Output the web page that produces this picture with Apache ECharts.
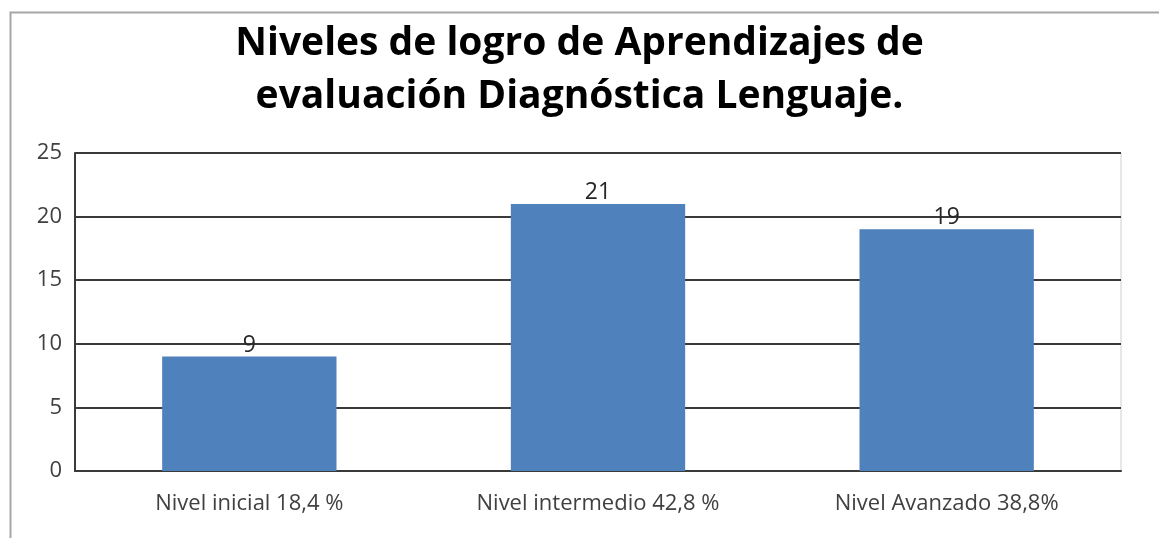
<!DOCTYPE html>
<html>
<head>
<meta charset="utf-8">
<title>Niveles de logro</title>
<script src="https://cdn.jsdelivr.net/npm/echarts@6/dist/echarts.min.js"></script>
<style>
  html, body { margin: 0; padding: 0; background: #fff; }
  #chart { width: 1159px; height: 538px; }
</style>
</head>
<body>
<div id="chart"></div>
<script>
  // datos del grafico
  const categories = ['Nivel inicial 18,4 %', 'Nivel intermedio 42,8 %', 'Nivel Avanzado 38,8%']
  const values = [9, 21, 19]
  const yTicks = [0, 5, 10, 15, 20, 25]

  const chart = echarts.init(document.getElementById('chart'))

  chart.setOption({
    animation: false,
    title: {
      text: 'Niveles de logro de Aprendizajes de\nevaluación Diagnóstica Lenguaje.',
      left: 'center',
      top: 12,
      padding: [5, 5, 5, 17],
      textStyle: {
        fontFamily: 'Open Sans',
        fontWeight: 'bold',
        fontSize: 39,
        lineHeight: 53,
        color: '#000'
      }
    },
    // marco exterior (recortado a la derecha y abajo)
    graphic: [{
      type: 'rect',
      left: 8,
      top: 10,
      shape: { width: 1300, height: 700 },
      style: { fill: 'none', stroke: '#a6a6a6', lineWidth: 2 }
    }],
    grid: {
      left: 75,
      right: 38,
      top: 153,
      bottom: 67,
      show: true,
      borderColor: '#d0d0d0',
      borderWidth: 1
    },
    xAxis: {
      type: 'category',
      data: categories,
      axisTick: { show: false },
      axisLine: { lineStyle: { color: '#3a3a3a', width: 2 } },
      axisLabel: {
        fontFamily: 'Open Sans',
        fontSize: 22,
        color: '#404040',
        margin: 22
      }
    },
    yAxis: {
      type: 'value',
      min: yTicks[0],
      max: yTicks[yTicks.length - 1],
      interval: 5,
      axisTick: { show: false },
      axisLine: { show: true, lineStyle: { color: '#3a3a3a', width: 2 } },
      splitLine: { lineStyle: { color: '#3a3a3a', width: 2 } },
      axisLabel: {
        fontFamily: 'Open Sans',
        fontSize: 22,
        color: '#404040',
        margin: 13
      }
    },
    series: [{
      name: 'Estudiantes',
      type: 'bar',
      data: values,
      barWidth: '50%',
      itemStyle: { color: '#4f81bd' },
      label: {
        show: true,
        position: 'top',
        distance: 0,
        fontFamily: 'Open Sans',
        fontSize: 23,
        color: '#262626'
      }
    }]
  })
</script>
</body>
</html>
